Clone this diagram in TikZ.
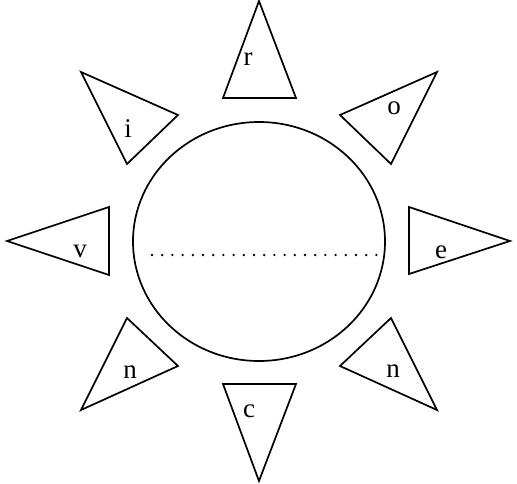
\documentclass[tikz,border=0pt]{standalone}
\usepackage{fontspec}
\setmainfont{Liberation Serif}
\usepackage{tikz}
\tikzset{
    ray/.style={draw=black, line width=1.7pt, line join=miter},
    face/.style={draw=black, line width=1.7pt},
    seam/.style={line width=2.6pt, line cap=round, dash pattern=on 0pt off 10.2pt},
    letter/.style={anchor=base, inner sep=0pt, font=\fontsize{27}{30}\selectfont}
}
\begin{document}
\begin{tikzpicture}[x=1pt, y=-1pt]
    \useasboundingbox (0,0) rectangle (517,483);
    \draw[face] (259,241.5) ellipse (126 and 119.5);
    \draw[seam] (152,255) -- (382,255);
    % rays, clockwise from the top
    \draw[ray] (259,1) -- (223,98) -- (296,98) -- cycle;
    \draw[ray] (437,72) -- (340,115) -- (391,164) -- cycle;
    \draw[ray] (409,207) -- (510,241) -- (409,274) -- cycle;
    \draw[ray] (391,318) -- (340,366) -- (437,410) -- cycle;
    \draw[ray] (223,384) -- (296,384) -- (259,481) -- cycle;
    \draw[ray] (127,318) -- (178,366) -- (81,410) -- cycle;
    \draw[ray] (109,207) -- (7,241) -- (109,275) -- cycle;
    \draw[ray] (81,72) -- (178,115) -- (127,164) -- cycle;
    \node[letter] (r) at (248,65) {r};
    \node[letter] (o) at (394,114) {o};
    \node[letter] (e) at (441,258) {e};
    \node[letter] (n1) at (393,377) {n};
    \node[letter] (c) at (249,417) {c};
    \node[letter] (n2) at (130,378) {n};
    \node[letter] (v) at (80,257) {v};
    \node[letter] (i) at (128,137) {i};
\end{tikzpicture}
\end{document}
